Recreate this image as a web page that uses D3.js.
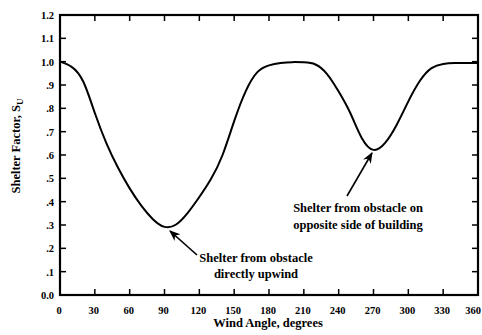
<!DOCTYPE html>
<html><head><meta charset="utf-8">
<script src="https://cdn.jsdelivr.net/npm/d3@7"></script>
<style>body{margin:0;background:#fff}svg{display:block}</style>
</head><body>
<svg id="c" width="482" height="335"></svg>
<script>
const angles = [0,10,20,30,40,50,60,70,80,90,100,110,120,130,140,150,160,170,180,190,200,210,220,230,240,250,260,270,280,290,300,310,320,330,340,350,360];
const shelter = [1.00,0.978,0.915,0.78,0.65,0.545,0.457,0.383,0.325,0.292,0.302,0.352,0.42,0.497,0.60,0.745,0.874,0.955,0.984,0.994,0.998,0.997,0.988,0.947,0.872,0.78,0.672,0.622,0.652,0.73,0.83,0.918,0.972,0.99,0.994,0.994,0.994];
const xTicks = [0,30,60,90,120,150,180,210,240,270,300,330,360];
const yTicks = [0,0.1,0.2,0.3,0.4,0.5,0.6,0.7,0.8,0.9,1.0,1.1,1.2];
const yTickLabels = ["0.0",".1",".2",".3",".4",".5",".6",".7",".8",".9","1.0","1.1","1.2"];

const svg = d3.select("#c");
const L=60, R=478, T=15, B=295;
const x = d3.scaleLinear().domain([0,360]).range([L,R]);
const y = d3.scaleLinear().domain([0,1.2]).range([B,T]);
const font = "'Liberation Serif', 'DejaVu Serif', serif";

const tl = 6;
const g = svg.append("g").attr("stroke","#000").attr("stroke-width",1.5);
xTicks.slice(1,-1).forEach(v=>{
  g.append("line").attr("x1",x(v)).attr("x2",x(v)).attr("y1",B).attr("y2",B-tl);
  g.append("line").attr("x1",x(v)).attr("x2",x(v)).attr("y1",T).attr("y2",T+tl);
});
yTicks.slice(1,-1).forEach(v=>{
  g.append("line").attr("x1",L).attr("x2",L+tl).attr("y1",y(v)).attr("y2",y(v));
  g.append("line").attr("x1",R).attr("x2",R-tl).attr("y1",y(v)).attr("y2",y(v));
});
svg.append("rect").attr("x",L).attr("y",T).attr("width",R-L).attr("height",B-T)
  .attr("fill","none").attr("stroke","#000").attr("stroke-width",2.2);

svg.append("g").selectAll("text").data(xTicks).join("text")
  .attr("x",(d,i)=> i===xTicks.length-1 ? 481 : x(d)-1).attr("y",314)
  .attr("text-anchor",(d,i)=> i===xTicks.length-1 ? "end" : "middle")
  .attr("font-family",font).attr("font-weight","bold").attr("font-size",10.5)
  .text(d=>d);
svg.append("g").selectAll("text").data(yTicks).join("text")
  .attr("x",54).attr("y",d=>y(d)+4).attr("text-anchor","end")
  .attr("font-family",font).attr("font-weight","bold").attr("font-size",10.5)
  .text((d,i)=>yTickLabels[i]);

svg.append("text").attr("x",268).attr("y",327).attr("text-anchor","middle")
  .attr("font-family",font).attr("font-weight","bold").attr("font-size",12.5)
  .text("Wind Angle, degrees");
const yl = svg.append("text").attr("transform","translate(20,146) rotate(-90)")
  .attr("text-anchor","middle").attr("font-family",font).attr("font-weight","bold").attr("font-size",12.5);
yl.append("tspan").text("Shelter Factor, S");
yl.append("tspan").attr("font-size",9).attr("dy",3).text("U");

const line = d3.line().x((d,i)=>x(angles[i])).y(d=>y(d)).curve(d3.curveNatural);
svg.append("path").datum(shelter).attr("d",line).attr("fill","none")
  .attr("stroke","#000").attr("stroke-width",2);

svg.append("defs").append("marker").attr("id","ah").attr("viewBox","0 0 10 10")
  .attr("refX",9).attr("refY",5).attr("markerWidth",9).attr("markerHeight",7).attr("orient","auto")
  .append("path").attr("d","M0,1 L10,5 L0,9 L3,5 Z").attr("fill","#000");
svg.append("line").attr("x1",197).attr("y1",255).attr("x2",170).attr("y2",231)
  .attr("stroke","#000").attr("stroke-width",1.6).attr("marker-end","url(#ah)");
svg.append("line").attr("x1",347).attr("y1",196).attr("x2",372).attr("y2",153)
  .attr("stroke","#000").attr("stroke-width",1.6).attr("marker-end","url(#ah)");

const ann = [["Shelter from obstacle",256,262],["directly upwind",256,278],
             ["Shelter from obstacle on",358,212],["opposite side of building",358,229]];
svg.append("g").selectAll("text").data(ann).join("text")
  .attr("x",d=>d[1]).attr("y",d=>d[2]).attr("text-anchor","middle")
  .attr("font-family",font).attr("font-weight","bold").attr("font-size",12.5)
  .text(d=>d[0]);
</script>
</body></html>
